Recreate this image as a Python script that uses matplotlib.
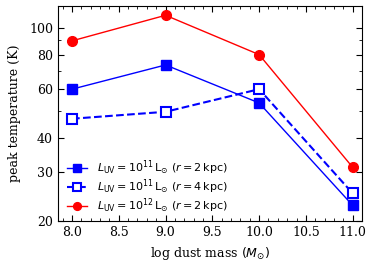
import matplotlib
matplotlib.use("Agg")
import matplotlib.pyplot as plt
from matplotlib.ticker import FixedLocator, NullFormatter, MultipleLocator

dust_mass = [8.0, 9.0, 10.0, 11.0]
t_uv11_r2 = [60.0, 73.4, 53.5, 22.8]
t_uv11_r4 = [46.9, 49.7, 60.0, 25.2]
t_uv12_r2 = [89.7, 111.0, 80.0, 31.3]
y_ticks = [20, 30, 40, 60, 80, 100]
y_minor = [50, 70, 90]

plt.rcParams["font.family"] = "DejaVu Serif"
plt.rcParams["mathtext.fontset"] = "dejavusans"
plt.rcParams["font.size"] = 9

fig, ax = plt.subplots(figsize=(3.74, 2.69), dpi=100)
fig.subplots_adjust(left=0.155, right=0.968, top=0.978, bottom=0.178)

ax.plot(dust_mass, t_uv11_r2, "-s", color="blue", lw=1, ms=7,
        label=r"$L_{\rm UV} = 10^{11}\,{\rm L}_{\odot}$ $(r = 2\,{\rm kpc})$")
ax.plot(dust_mass, t_uv11_r4, "--s", color="blue", lw=1.5, ms=7, mfc="white", mew=1.5,
        label=r"$L_{\rm UV} = 10^{11}\,{\rm L}_{\odot}$ $(r = 4\,{\rm kpc})$")
ax.plot(dust_mass, t_uv12_r2, "-o", color="red", lw=1, ms=7,
        label=r"$L_{\rm UV} = 10^{12}\,{\rm L}_{\odot}$ $(r = 2\,{\rm kpc})$")

ax.set_yscale("log")
ax.set_ylim(20, 120)
ax.set_xlim(7.85, 11.1)
ax.yaxis.set_major_locator(FixedLocator(y_ticks))
ax.yaxis.set_major_formatter(plt.FixedFormatter([str(v) for v in y_ticks]))
ax.yaxis.set_minor_locator(FixedLocator(y_minor))
ax.yaxis.set_minor_formatter(NullFormatter())
ax.xaxis.set_major_locator(MultipleLocator(0.5))
ax.xaxis.set_minor_locator(MultipleLocator(0.1))
ax.tick_params(which="both", direction="in", top=True, right=True)
ax.tick_params(which="major", length=4)
ax.tick_params(which="minor", length=2)

ax.set_xlabel(r"log dust mass $(M_{\odot})$")
ax.set_ylabel("peak temperature (K)", labelpad=6)

leg = ax.legend(loc="lower left", bbox_to_anchor=(0.011, 0.002), frameon=False,
                fontsize=8, handlelength=1.8, handletextpad=0.9, borderaxespad=0.0,
                labelspacing=0.05, borderpad=0.5, markerscale=0.8)

fig.savefig("out.png", dpi=100)
